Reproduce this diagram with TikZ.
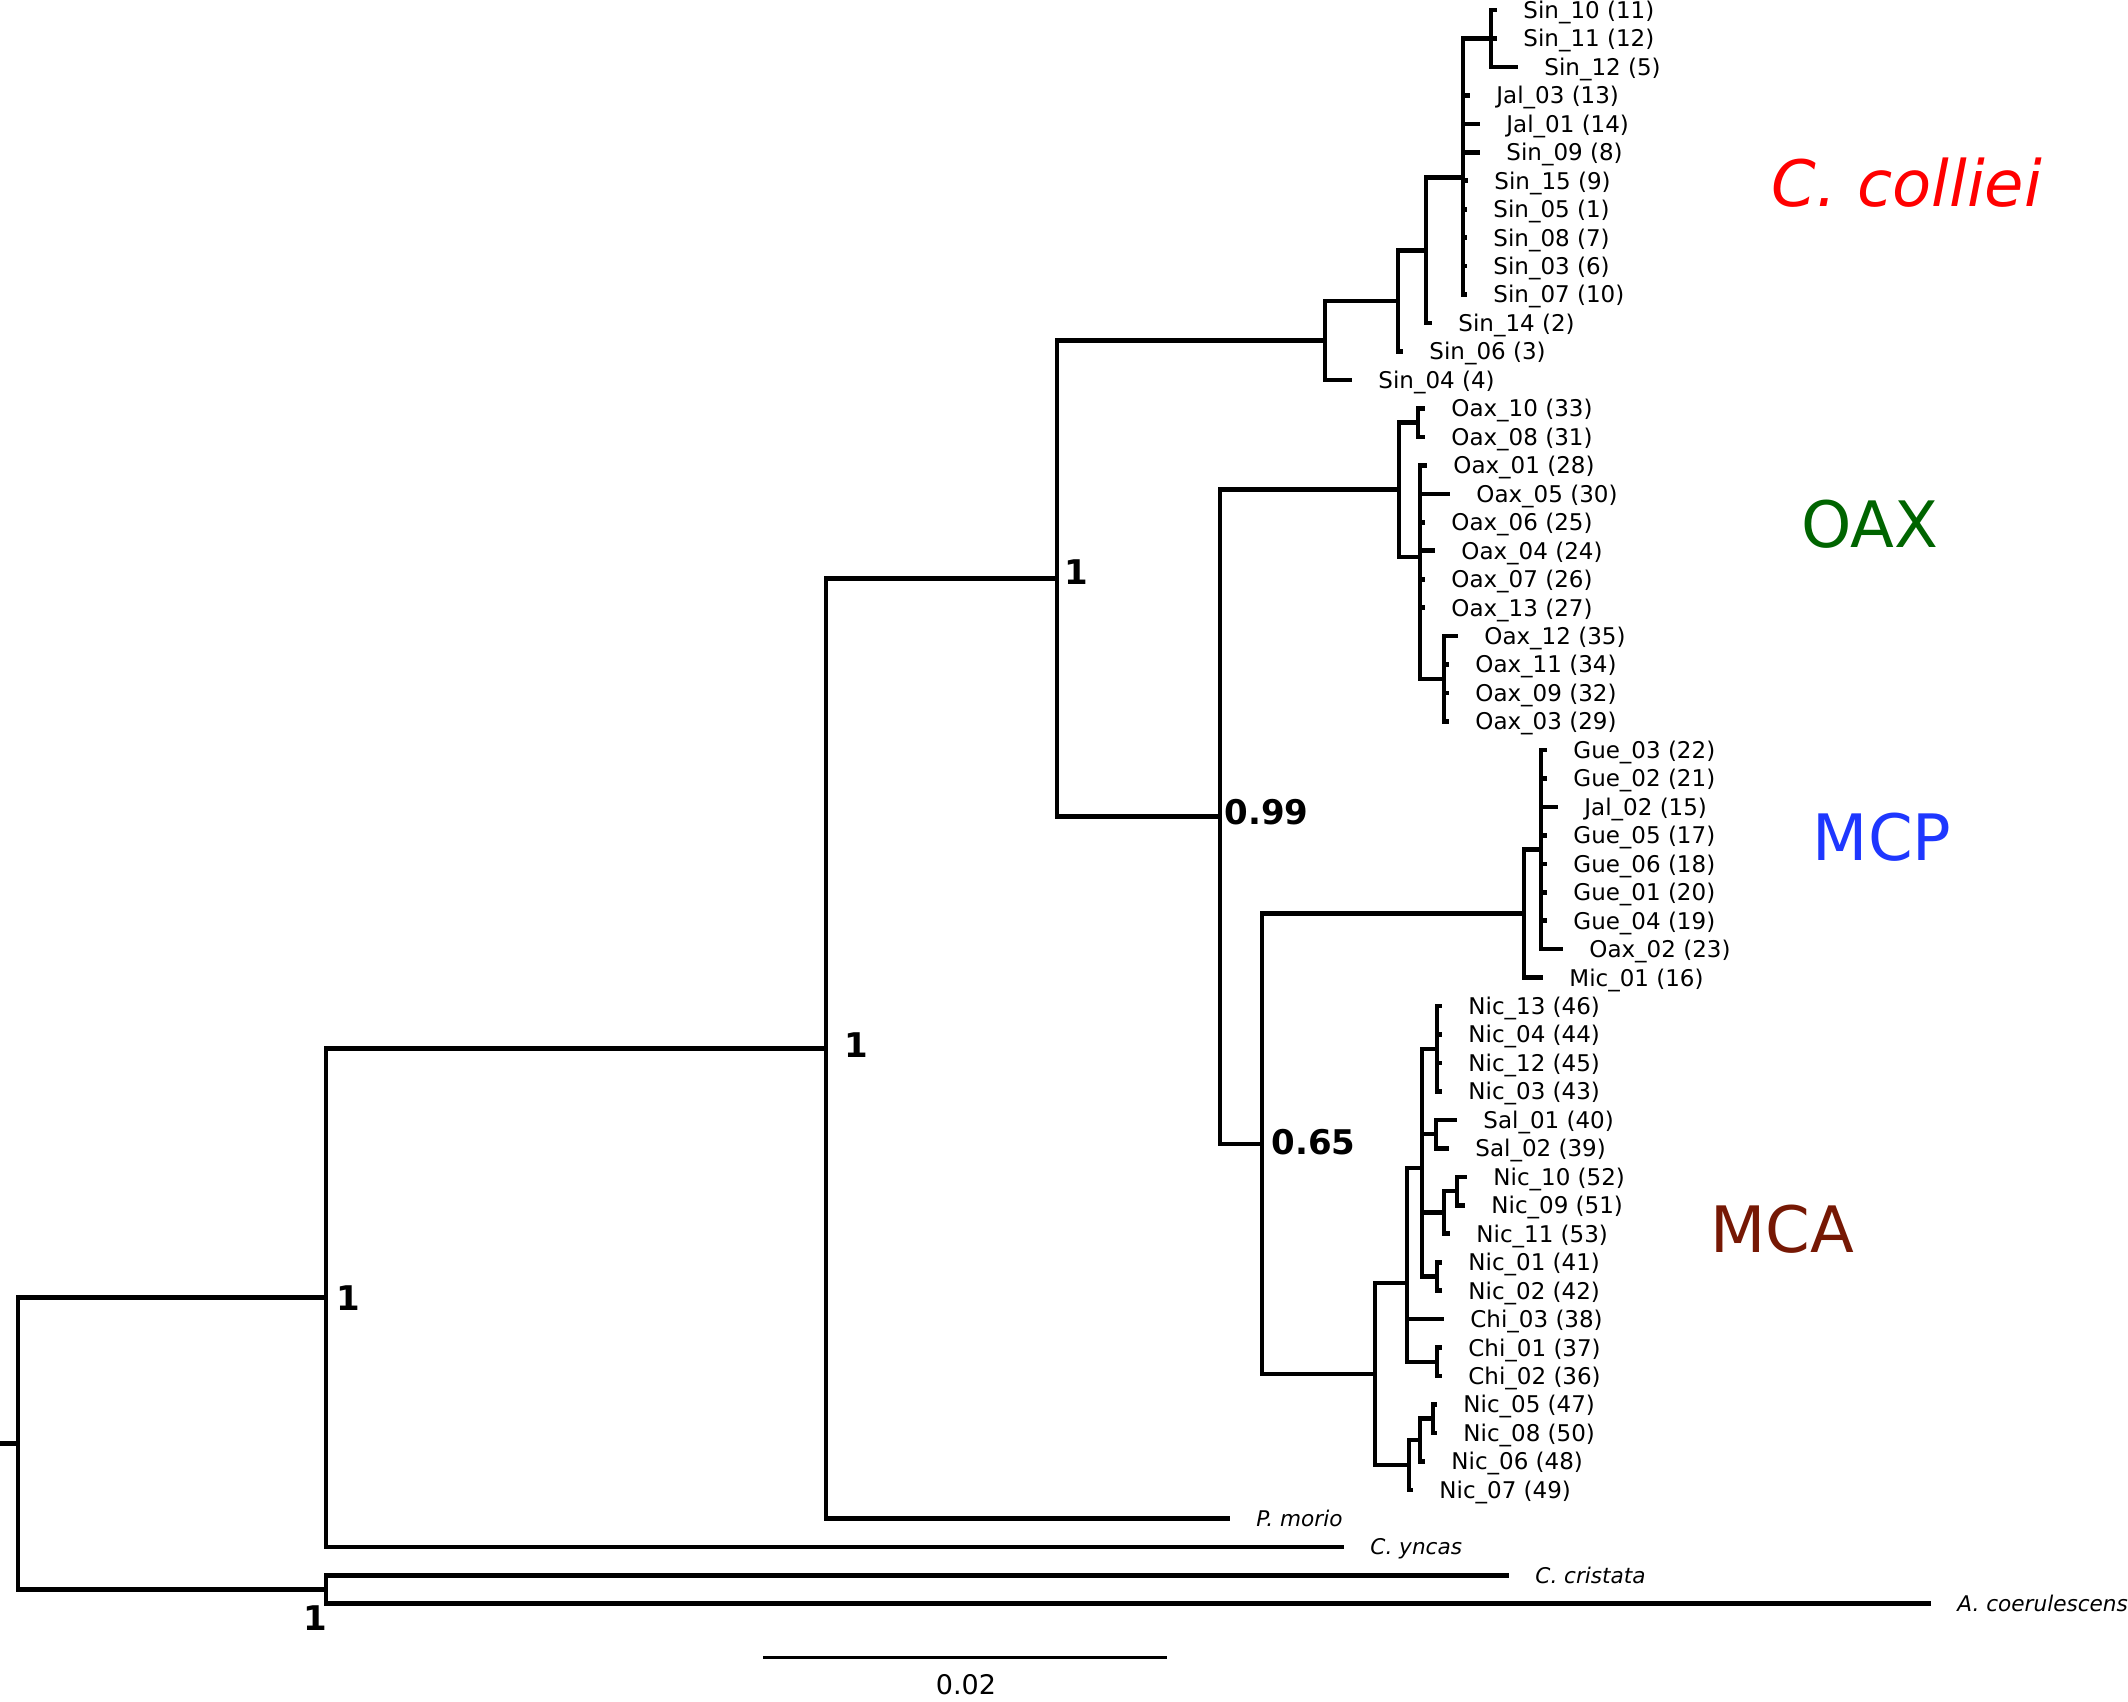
\documentclass[tikz,border=0pt]{standalone}
\usepackage{fontspec}
\setmainfont{DejaVu Sans}
\definecolor{cred}{RGB}{255,0,0}
\definecolor{cgreen}{RGB}{0,100,0}
\definecolor{cblue}{RGB}{30,55,255}
\definecolor{cbrown}{RGB}{118,24,4}
\tikzset{
  br/.style={line width=2.3pt, line join=miter, line cap=butt},
  leaflab/.style={anchor=base west, inner sep=0pt, xshift=13pt, yshift=-4.2pt, font=\fontsize{11.5}{13}\selectfont},
  outlab/.style={anchor=base west, inner sep=0pt, xshift=13pt, yshift=-3.9pt, font=\fontsize{10.8}{12}\selectfont\itshape},
  supp/.style={anchor=west, inner sep=0pt, font=\fontsize{17}{20}\selectfont\bfseries},
  clade/.style={inner sep=0pt, font=\fontsize{32}{36}\selectfont},
}
\newcommand\mkleaf[3]{\coordinate (t#1) at (#2,{10+28.46*#1}); \node[leaflab] (L#1) at (t#1) {#3};}
\newcommand\mkout[3]{\coordinate (t#1) at (#2,{10+28.46*#1}); \node[outlab] (L#1) at (t#1) {#3};}
\newcommand\mybr[2]{\draw[br] (#1) |- (#2);}
\begin{document}
\begin{tikzpicture}[x=0.5pt,y=-0.5pt]
\useasboundingbox (0,0) rectangle (2128,1701);
% ---------- leaves ----------
\mkleaf{0}{1497}{Sin\_10 (11)}
\mkleaf{1}{1497}{Sin\_11 (12)}
\mkleaf{2}{1518}{Sin\_12 (5)}
\mkleaf{3}{1470}{Jal\_03 (13)}
\mkleaf{4}{1480}{Jal\_01 (14)}
\mkleaf{5}{1480}{Sin\_09 (8)}
\mkleaf{6}{1468}{Sin\_15 (9)}
\mkleaf{7}{1467}{Sin\_05 (1)}
\mkleaf{8}{1467}{Sin\_08 (7)}
\mkleaf{9}{1467}{Sin\_03 (6)}
\mkleaf{10}{1467}{Sin\_07 (10)}
\mkleaf{11}{1432}{Sin\_14 (2)}
\mkleaf{12}{1403}{Sin\_06 (3)}
\mkleaf{13}{1352}{Sin\_04 (4)}
\mkleaf{14}{1425}{Oax\_10 (33)}
\mkleaf{15}{1425}{Oax\_08 (31)}
\mkleaf{16}{1427}{Oax\_01 (28)}
\mkleaf{17}{1450}{Oax\_05 (30)}
\mkleaf{18}{1425}{Oax\_06 (25)}
\mkleaf{19}{1435}{Oax\_04 (24)}
\mkleaf{20}{1425}{Oax\_07 (26)}
\mkleaf{21}{1425}{Oax\_13 (27)}
\mkleaf{22}{1458}{Oax\_12 (35)}
\mkleaf{23}{1449}{Oax\_11 (34)}
\mkleaf{24}{1449}{Oax\_09 (32)}
\mkleaf{25}{1449}{Oax\_03 (29)}
\mkleaf{26}{1547}{Gue\_03 (22)}
\mkleaf{27}{1547}{Gue\_02 (21)}
\mkleaf{28}{1558}{Jal\_02 (15)}
\mkleaf{29}{1547}{Gue\_05 (17)}
\mkleaf{30}{1547}{Gue\_06 (18)}
\mkleaf{31}{1547}{Gue\_01 (20)}
\mkleaf{32}{1547}{Gue\_04 (19)}
\mkleaf{33}{1563}{Oax\_02 (23)}
\mkleaf{34}{1543}{Mic\_01 (16)}
\mkleaf{35}{1442}{Nic\_13 (46)}
\mkleaf{36}{1442}{Nic\_04 (44)}
\mkleaf{37}{1442}{Nic\_12 (45)}
\mkleaf{38}{1442}{Nic\_03 (43)}
\mkleaf{39}{1457}{Sal\_01 (40)}
\mkleaf{40}{1449}{Sal\_02 (39)}
\mkleaf{41}{1467}{Nic\_10 (52)}
\mkleaf{42}{1465}{Nic\_09 (51)}
\mkleaf{43}{1450}{Nic\_11 (53)}
\mkleaf{44}{1442}{Nic\_01 (41)}
\mkleaf{45}{1442}{Nic\_02 (42)}
\mkleaf{46}{1444}{Chi\_03 (38)}
\mkleaf{47}{1442}{Chi\_01 (37)}
\mkleaf{48}{1442}{Chi\_02 (36)}
\mkleaf{49}{1437}{Nic\_05 (47)}
\mkleaf{50}{1437}{Nic\_08 (50)}
\mkleaf{51}{1425}{Nic\_06 (48)}
\mkleaf{52}{1413}{Nic\_07 (49)}
\mkout{53}{1230}{P. morio}
\mkout{54}{1344}{C. yncas}
\mkout{55}{1509}{C. cristata}
\mkout{56}{1931}{A. coerulescens}
% ---------- internal nodes ----------
\coordinate (s1) at (1491,38.46);
\coordinate (s2) at (1463,177.6);
\coordinate (s3) at (1426,250.33);
\coordinate (s4) at (1398,300.93);
\coordinate (s5) at (1325,340.45);
\coordinate (o1) at (1418,422.67);
\coordinate (o2) at (1444,678.81);
\coordinate (o3) at (1420,556.84);
\coordinate (o4) at (1399,489.76);
\coordinate (p1) at (1541,849.57);
\coordinate (p2) at (1524,913.6);
\coordinate (a1) at (1437,1048.79);
\coordinate (a2) at (1436,1134.17);
\coordinate (a3) at (1457,1191.09);
\coordinate (a4) at (1444,1212.44);
\coordinate (a5) at (1437,1276.47);
\coordinate (a6) at (1422,1167.97);
\coordinate (a7) at (1437,1361.85);
\coordinate (a8) at (1407,1282.99);
\coordinate (a9) at (1433,1418.77);
\coordinate (a10) at (1420,1440.12);
\coordinate (a11) at (1409,1465.02);
\coordinate (a12) at (1375,1374.0);
\coordinate (nF) at (1262,1143.8);
\coordinate (nE) at (1220,816.78);
\coordinate (nC) at (1057,578.62);
\coordinate (nB) at (826,1048.5);
\coordinate (nA) at (326,1297.67);
\coordinate (nO) at (326,1589.53);
\coordinate (nR) at (18,1443.6);
\coordinate (r0) at (0,1443.6);
% ---------- branches ----------
\foreach \c in {t0,t1,t2} {\mybr{s1}{\c}}
\foreach \c in {s1,t3,t4,t5,t6,t7,t8,t9,t10} {\mybr{s2}{\c}}
\foreach \c in {s2,t11} {\mybr{s3}{\c}}
\foreach \c in {s3,t12} {\mybr{s4}{\c}}
\foreach \c in {s4,t13} {\mybr{s5}{\c}}
\foreach \c in {t14,t15} {\mybr{o1}{\c}}
\foreach \c in {t22,t23,t24,t25} {\mybr{o2}{\c}}
\foreach \c in {t16,t17,t18,t19,t20,t21,o2} {\mybr{o3}{\c}}
\foreach \c in {o1,o3} {\mybr{o4}{\c}}
\foreach \c in {t26,t27,t28,t29,t30,t31,t32,t33} {\mybr{p1}{\c}}
\foreach \c in {p1,t34} {\mybr{p2}{\c}}
\foreach \c in {t35,t36,t37,t38} {\mybr{a1}{\c}}
\foreach \c in {t39,t40} {\mybr{a2}{\c}}
\foreach \c in {t41,t42} {\mybr{a3}{\c}}
\foreach \c in {a3,t43} {\mybr{a4}{\c}}
\foreach \c in {t44,t45} {\mybr{a5}{\c}}
\foreach \c in {a1,a2,a4,a5} {\mybr{a6}{\c}}
\foreach \c in {t47,t48} {\mybr{a7}{\c}}
\foreach \c in {a6,t46,a7} {\mybr{a8}{\c}}
\foreach \c in {t49,t50} {\mybr{a9}{\c}}
\foreach \c in {a9,t51} {\mybr{a10}{\c}}
\foreach \c in {a10,t52} {\mybr{a11}{\c}}
\foreach \c in {a8,a11} {\mybr{a12}{\c}}
\foreach \c in {p2,a12} {\mybr{nF}{\c}}
\foreach \c in {o4,nF} {\mybr{nE}{\c}}
\foreach \c in {s5,nE} {\mybr{nC}{\c}}
\foreach \c in {nC,t53} {\mybr{nB}{\c}}
\foreach \c in {nB,t54} {\mybr{nA}{\c}}
\foreach \c in {t55,t56} {\mybr{nO}{\c}}
\foreach \c in {nA,nO} {\mybr{nR}{\c}}
\draw[br] (r0) -- (nR);
% ---------- support values ----------
\node[supp, xshift=5pt] (sA) at (nA) {1};
\node[supp, xshift=9pt, yshift=1.5pt] (sB) at (nB) {1};
\node[supp, xshift=3.5pt, yshift=3.5pt] (sC) at (nC) {1};
\node[supp, xshift=2pt, yshift=2.5pt] (sE) at (nE) {0.99};
\node[supp, xshift=4.5pt, yshift=1pt] (sF) at (nF) {0.65};
\node[supp, anchor=east, xshift=1pt, yshift=-14.25pt] (sO) at (nO) {1};
% ---------- clade labels ----------
\node[clade, text=cred, font=\fontsize{32}{36}\selectfont\itshape] (kC) at (1907,183) {C. colliei};
\node[clade, text=cgreen] (kO) at (1870,524) {OAX};
\node[clade, text=cblue] (kP) at (1882,837) {MCP};
\node[clade, text=cbrown] (kA) at (1782,1229) {MCA};
% ---------- scale bar ----------
\coordinate (sb1) at (763,1657);
\coordinate (sb2) at (1167,1657);
\draw[line width=1.5pt] (sb1) -- (sb2);
\node[inner sep=0pt, font=\fontsize{13.5}{15}\selectfont] (sbl) at (966,1685) {0.02};
\end{tikzpicture}
\end{document}
